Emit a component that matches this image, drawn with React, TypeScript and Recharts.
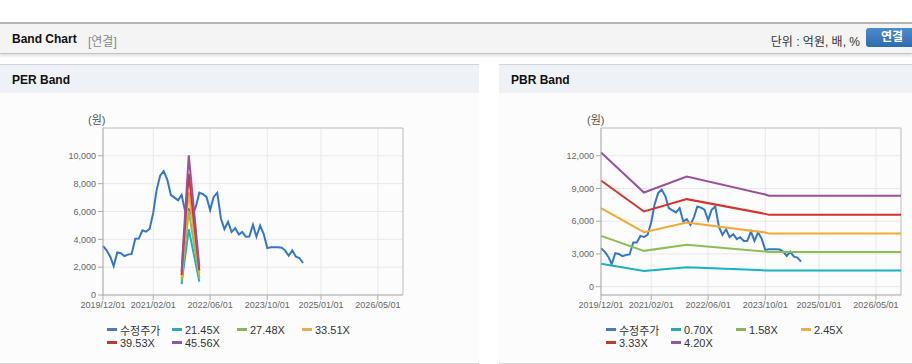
import { LineChart, Line, XAxis, YAxis, CartesianGrid, ReferenceLine } from 'recharts'

const xTickLabels = ['2019/12/01', '2021/02/01', '2022/06/01', '2023/10/01', '2025/01/01', '2026/05/01']
const xStart = '2019/12/01'
const xEnd = '2026/12/01'

// 수정주가, monthly
const priceMonths = [
  '2019/12',
  '2020/01', '2020/02', '2020/03', '2020/04', '2020/05', '2020/06', '2020/07', '2020/08', '2020/09', '2020/10', '2020/11', '2020/12',
  '2021/01', '2021/02', '2021/03', '2021/04', '2021/05', '2021/06', '2021/07', '2021/08', '2021/09', '2021/10', '2021/11', '2021/12',
  '2022/01', '2022/02', '2022/03', '2022/04', '2022/05', '2022/06', '2022/07', '2022/08', '2022/09', '2022/10', '2022/11', '2022/12',
  '2023/01', '2023/02', '2023/03', '2023/04', '2023/05', '2023/06', '2023/07', '2023/08', '2023/09', '2023/10', '2023/11', '2023/12',
  '2024/01', '2024/02', '2024/03', '2024/04', '2024/05', '2024/06', '2024/07', '2024/08',
]
const priceValues = [
  3520,
  3210, 2750, 2080, 3060, 3000, 2800, 2900, 2950, 4040, 4050, 4650, 4550,
  4750, 5900, 7500, 8570, 8900, 8300, 7200, 7000, 6800, 7200, 5970, 6180,
  5660, 6400, 7350, 7250, 7050, 6100, 7050, 7350, 5500, 4740, 5260, 4530,
  4800, 4350, 4530, 4190, 4200, 5050, 4190, 4990, 4380, 3370, 3430, 3430,
  3430, 3400, 3210, 2820, 3210, 2750, 2660, 2300,
]

// PER band
const perTicks = [0, 2000, 4000, 6000, 8000, 10000]
const perBandDates = ['2021/10/01', '2021/10/10', '2021/12/01', '2022/03/01']
const per2145 = [780, 1420, 4720, 960]
const per2748 = [1000, 1820, 6050, 1230]
const per3351 = [1220, 2220, 7380, 1500]
const per3953 = [1440, 2620, 8700, 1770]
const per4556 = [1660, 3020, 10040, 2040]

// PBR band
const pbrTicks = [0, 3000, 6000, 9000, 12000]
const pbrBandDates = ['2019/12/01', '2020/12/01', '2021/12/01', '2023/10/01', '2023/11/01', '2026/12/01']
const pbr070 = [2100, 1440, 1780, 1490, 1470, 1470]
const pbr158 = [4650, 3280, 3830, 3210, 3180, 3180]
const pbr245 = [7190, 4990, 5880, 4960, 4870, 4870]
const pbr333 = [9730, 6890, 8020, 6670, 6580, 6580]
const pbr420 = [12300, 8630, 10100, 8450, 8330, 8330]

const COLORS = ['#3477c9', '#19b2c0', '#8ebc55', '#f2a935', '#d4332a', '#9a519c']
const LEGEND_COLORS = ['#4a78b8', '#2aa8b8', '#8db05a', '#e6b04a', '#c0392b', '#8e5a9b']

const FONT = "'Liberation Sans', Arial, 'Noto Sans CJK KR', sans-serif"

function toTime(s: string) {
  const [y, m, d] = s.split('/').map(Number)
  return Date.UTC(y, m - 1, d || 1)
}

function series(dates: string[], values: number[]) {
  return dates.map((d, i) => ({ t: toTime(d), v: values[i] }))
}

const xTicks = xTickLabels.map(toTime)
const priceData = series(priceMonths, priceValues)

const perSeries = [
  { name: '21.45X', data: series(perBandDates, per2145) },
  { name: '27.48X', data: series(perBandDates, per2748) },
  { name: '33.51X', data: series(perBandDates, per3351) },
  { name: '39.53X', data: series(perBandDates, per3953) },
  { name: '45.56X', data: series(perBandDates, per4556) },
]
const pbrSeries = [
  { name: '0.70X', data: series(pbrBandDates, pbr070) },
  { name: '1.58X', data: series(pbrBandDates, pbr158) },
  { name: '2.45X', data: series(pbrBandDates, pbr245) },
  { name: '3.33X', data: series(pbrBandDates, pbr333) },
  { name: '4.20X', data: series(pbrBandDates, pbr420) },
]

const tickStyle = { fontSize: 9, fill: '#666', fontFamily: FONT }

function BandChart({ bands, yTicks, yDomain, width, right }: {
  bands: { name: string; data: { t: number; v: number }[] }[]
  yTicks: number[]
  yDomain: [number, number]
  width: number
  right: number
}) {
  return (
    <LineChart width={width} height={232} margin={{ top: 35, right, bottom: 0, left: 0 }}>
      <CartesianGrid stroke="#e8e8e8" />
      <XAxis
        dataKey="t"
        type="number"
        domain={[toTime(xStart), toTime(xEnd)]}
        ticks={xTicks}
        tickFormatter={(v) => xTickLabels[xTicks.indexOf(v)]}
        tick={tickStyle}
        stroke="#aaa"
        tickSize={5}
        height={30}
        interval={0}
      />
      <YAxis
        type="number"
        domain={yDomain}
        ticks={yTicks}
        tickFormatter={(v) => v.toLocaleString('en-US')}
        tick={tickStyle}
        stroke="#aaa"
        tickSize={5}
        width={103}
        interval={0}
      />
      <ReferenceLine y={yDomain[1]} stroke="#c4c4c4" />
      <ReferenceLine x={toTime(xEnd)} stroke="#c4c4c4" />
      <Line data={priceData} dataKey="v" name="수정주가" stroke={COLORS[0]} strokeWidth={2} dot={false} isAnimationActive={false} />
      {bands.map((b, i) => (
        <Line key={b.name} data={b.data} dataKey="v" name={b.name} stroke={COLORS[i + 1]} strokeWidth={2} dot={false} isAnimationActive={false} />
      ))}
    </LineChart>
  )
}

function LegendBox({ names, left }: { names: string[]; left: number }) {
  return (
    <div style={{ position: 'absolute', left, top: 323, display: 'grid', gridTemplateColumns: 'repeat(4, 65px)', rowGap: 0 }}>
      {names.map((n, i) => (
        <div key={n} style={{ display: 'flex', alignItems: 'center', height: 13, fontSize: 11, color: '#333', whiteSpace: 'nowrap' }}>
          <span style={{ display: 'inline-block', width: 10, height: 3, background: LEGEND_COLORS[i], marginRight: 3 }} />
          {n}
        </div>
      ))}
    </div>
  )
}

function Panel({ left, width, title }: { left: number; width: number; title: string }) {
  return (
    <div style={{ position: 'absolute', left, top: 64, width, height: 298, borderTop: '1px solid #d4d4d4', borderBottom: '1px solid #dcdcdc', background: '#fcfcfc' }}>
      <div style={{ height: 28, background: '#eef2f7', fontWeight: 700, fontSize: 12, color: '#111', lineHeight: '30px', paddingLeft: 12 }}>{title}</div>
    </div>
  )
}

export default function App() {
  return (
    <div style={{ position: 'absolute', left: 0, top: 0, width: 912, height: 364, background: '#fff', overflow: 'hidden', fontFamily: FONT }}>
      {/* header */}
      <div style={{ position: 'absolute', left: 0, top: 22, width: 912, height: 29, borderTop: '2px solid #b5b5b5', borderBottom: '1px solid #c4c4c4', background: '#f4f4f4', boxShadow: '0 2px 2px rgba(0,0,0,0.12)' }}>
        <span style={{ position: 'absolute', left: 12, top: 8, fontSize: 12, fontWeight: 700, color: '#111' }}>Band Chart</span>
        <span style={{ position: 'absolute', left: 88, top: 8, fontSize: 12, color: '#888' }}>[연결]</span>
        <span style={{ position: 'absolute', right: 52, top: 8, fontSize: 12, color: '#333' }}>단위 : 억원, 배, %</span>
        <div style={{ position: 'absolute', left: 866, top: 4, width: 52, height: 19, borderRadius: 3, background: 'linear-gradient(#4b8bd0, #2e6cad)', color: '#fff', fontSize: 12, fontWeight: 700, lineHeight: '19px', paddingLeft: 15 }}>연결</div>
      </div>

      <Panel left={0} width={479} title="PER Band" />
      <Panel left={499} width={413} title="PBR Band" />

      <div style={{ position: 'absolute', left: 88, top: 111, fontSize: 11, color: '#555' }}>(원)</div>
      <div style={{ position: 'absolute', left: 587, top: 111, fontSize: 11, color: '#555' }}>(원)</div>

      <div style={{ position: 'absolute', left: 0, top: 93 }}>
        <BandChart bands={perSeries} yTicks={perTicks} yDomain={[0, 12000]} width={479} right={76} />
      </div>
      <div style={{ position: 'absolute', left: 498, top: 93 }}>
        <BandChart bands={pbrSeries} yTicks={pbrTicks} yDomain={[-765, 14540]} width={412} right={9} />
      </div>

      <LegendBox names={['수정주가', ...perSeries.map((s) => s.name)]} left={107} />
      <LegendBox names={['수정주가', ...pbrSeries.map((s) => s.name)]} left={606} />
    </div>
  )
}
